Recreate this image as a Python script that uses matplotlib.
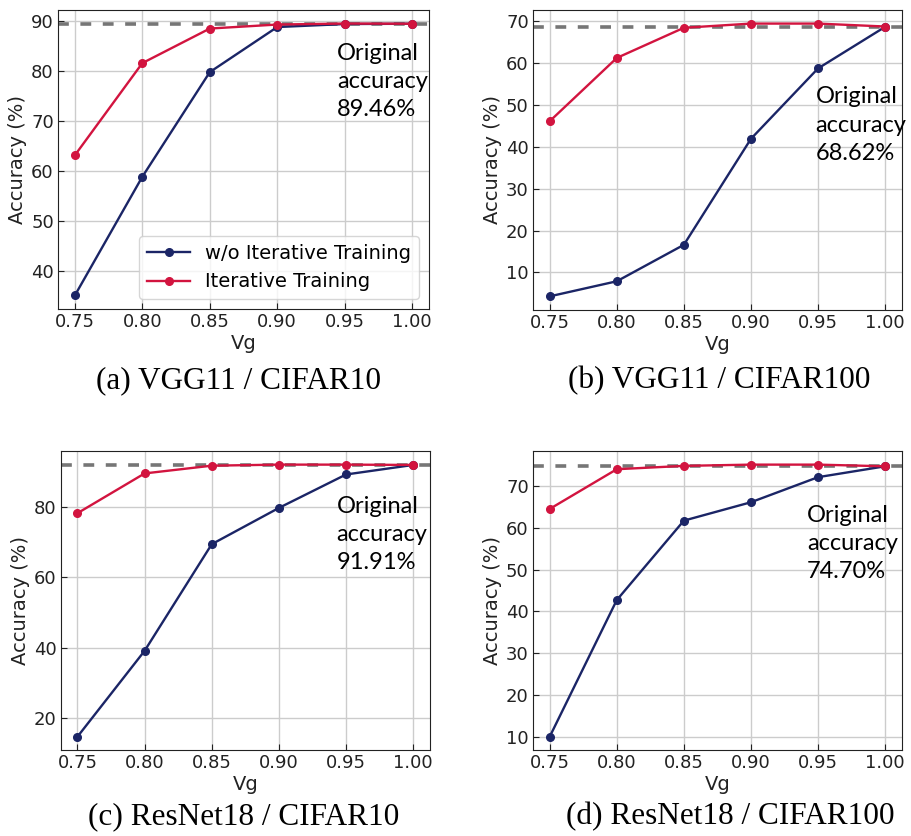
import matplotlib
matplotlib.use('Agg')
import matplotlib.pyplot as plt

plt.rcParams['font.family'] = ['DejaVu Sans']

vg = [0.75, 0.80, 0.85, 0.90, 0.95, 1.00]

# (a) VGG11 / CIFAR10
a_wo = [35.2, 58.9, 79.8, 88.8, 89.4, 89.46]
a_it = [63.2, 81.6, 88.5, 89.3, 89.5, 89.46]
# (b) VGG11 / CIFAR100
b_wo = [4.3, 7.9, 16.6, 41.9, 58.7, 68.62]
b_it = [46.1, 61.2, 68.4, 69.4, 69.4, 68.7]
# (c) ResNet18 / CIFAR10
c_wo = [14.7, 39.1, 69.4, 79.7, 89.2, 91.91]
c_it = [78.2, 89.5, 91.7, 92.0, 92.0, 91.91]
# (d) ResNet18 / CIFAR100
d_wo = [10.0, 42.7, 61.7, 66.1, 72.1, 74.7]
d_it = [64.5, 74.0, 74.8, 75.1, 75.1, 74.7]

orig = [89.46, 68.62, 91.91, 74.70]
captions = ['(a) VGG11 / CIFAR10', '(b) VGG11 / CIFAR100',
            '(c) ResNet18 / CIFAR10', '(d) ResNet18 / CIFAR100']
yticks = [[40, 50, 60, 70, 80, 90],
          [10, 20, 30, 40, 50, 60, 70],
          [20, 40, 60, 80],
          [10, 20, 30, 40, 50, 60, 70]]

blue = '#1b2566'
red = '#d2143f'

fig = plt.figure(figsize=(9.11, 8.36), dpi=100, facecolor='white')

rects = [[0.0637, 0.6304, 0.4072, 0.3577],
         [0.585, 0.6292, 0.405, 0.3589],
         [0.0666, 0.1025, 0.4054, 0.358],
         [0.585, 0.1025, 0.405, 0.358]]
txt_pos = [(0.752, 0.89), (0.766, 0.745), (0.747, 0.85), (0.743, 0.82)]
cap_pos = [(0.262, 0.545), (0.789, 0.545), (0.267, 0.023), (0.802, 0.023)]
series = [(a_wo, a_it), (b_wo, b_it), (c_wo, c_it), (d_wo, d_it)]

for i in range(4):
    ax = fig.add_axes(rects[i])
    wo, it = series[i]
    ax.axhline(orig[i], color='#767676', lw=2.6, ls=(0, (3, 3.2)), zorder=1)
    ax.plot(vg, wo, '-o', color=blue, lw=1.7, ms=5.5, label='w/o Iterative Training', zorder=3)
    ax.plot(vg, it, '-o', color=red, lw=1.7, ms=5.5, label='Iterative Training', zorder=3)
    ax.set_xticks(vg)
    ax.set_xticklabels(['%.2f' % v for v in vg])
    ax.set_yticks(yticks[i])
    ax.grid(True, color='#cccccc', lw=1.0)
    ax.set_axisbelow(True)
    ax.tick_params(direction='in', labelsize=13, colors='#222222', length=4, pad=3)
    for s in ax.spines.values():
        s.set_color('#222222')
    ax.set_xlabel('Vg', fontsize=14, color='#222222', labelpad=2)
    ax.set_ylabel('Accuracy (%)', fontsize=14, color='#222222', labelpad=3)
    ax.text(txt_pos[i][0], txt_pos[i][1],
            'Original\naccuracy\n%.2f%%' % orig[i],
            transform=ax.transAxes, ha='left', va='top',
            fontsize=17, family='Lato', linespacing=1.42)
    if i == 0:
        ax.legend(loc='lower right', fontsize=14, handlelength=2.2)
    fig.text(cap_pos[i][0], cap_pos[i][1], captions[i], ha='center', va='center',
             fontsize=22.5, family='Liberation Serif')

fig.savefig('out.png', dpi=100, facecolor='white')
